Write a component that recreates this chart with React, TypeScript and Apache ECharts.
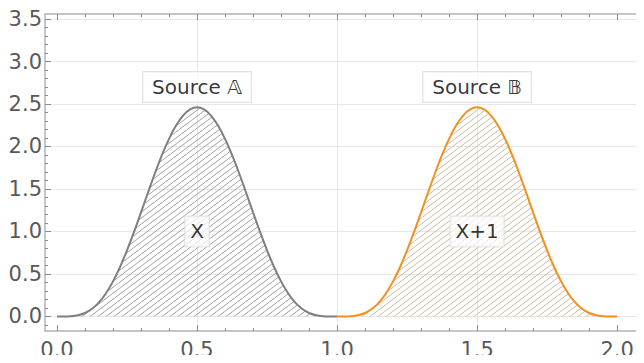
import { useEffect, useRef } from "react";
import * as echarts from "echarts";

// Sample positions and heights of the two densities
const xsA = [0, 0.025, 0.05, 0.075, 0.1, 0.125, 0.15, 0.175, 0.2, 0.225, 0.25, 0.275, 0.3, 0.325, 0.35, 0.375, 0.4, 0.425, 0.45, 0.475, 0.5, 0.525, 0.55, 0.575, 0.6, 0.625, 0.65, 0.675, 0.7, 0.725, 0.75, 0.775, 0.8, 0.825, 0.85, 0.875, 0.9, 0.925, 0.95, 0.975, 1];
const sourceA = [0, 0.0002, 0.003, 0.015, 0.041, 0.09, 0.166, 0.274, 0.413, 0.582, 0.779, 0.995, 1.225, 1.459, 1.688, 1.901, 2.09, 2.247, 2.364, 2.436, 2.461, 2.436, 2.364, 2.247, 2.09, 1.901, 1.688, 1.459, 1.225, 0.995, 0.779, 0.582, 0.413, 0.274, 0.166, 0.09, 0.041, 0.015, 0.003, 0.0002, 0];
const xsB = [1, 1.025, 1.05, 1.075, 1.1, 1.125, 1.15, 1.175, 1.2, 1.225, 1.25, 1.275, 1.3, 1.325, 1.35, 1.375, 1.4, 1.425, 1.45, 1.475, 1.5, 1.525, 1.55, 1.575, 1.6, 1.625, 1.65, 1.675, 1.7, 1.725, 1.75, 1.775, 1.8, 1.825, 1.85, 1.875, 1.9, 1.925, 1.95, 1.975, 2];
const sourceB = [0, 0.0002, 0.003, 0.015, 0.041, 0.09, 0.166, 0.274, 0.413, 0.582, 0.779, 0.995, 1.225, 1.459, 1.688, 1.901, 2.09, 2.247, 2.364, 2.436, 2.461, 2.436, 2.364, 2.247, 2.09, 1.901, 1.688, 1.459, 1.225, 0.995, 0.779, 0.582, 0.413, 0.274, 0.166, 0.09, 0.041, 0.015, 0.003, 0.0002, 0];

// Tick positions
const xMajor = [0, 0.5, 1, 1.5, 2];
const xMinor = [0, 0.1, 0.2, 0.3, 0.4, 0.5, 0.6, 0.7, 0.8, 0.9, 1, 1.1, 1.2, 1.3, 1.4, 1.5, 1.6, 1.7, 1.8, 1.9, 2];
const xGrid = [0.5, 1, 1.5];
const yMajor = [0, 0.5, 1, 1.5, 2, 2.5, 3, 3.5];
const yMinor = [-0.1, 0, 0.1, 0.2, 0.3, 0.4, 0.5, 0.6, 0.7, 0.8, 0.9, 1, 1.1, 1.2, 1.3, 1.4, 1.5, 1.6, 1.7, 1.8, 1.9, 2, 2.1, 2.2, 2.3, 2.4, 2.5, 2.6, 2.7, 2.8, 2.9, 3, 3.1, 3.2, 3.3, 3.4, 3.5];

// Annotation labels: [x, y, text, horizontal padding]
const annotations: [number, number, string, number][] = [
  [0.5, 2.7, "Source 𝔸", 9],
  [1.5, 2.7, "Source 𝔹", 9],
  [0.5, 1.0, "X", 5],
  [1.5, 1.0, "X+1", 5],
];

const GRAY = "#7f7f7f";
const ORANGE = "#f4901e";

function hatch(color: string) {
  const w = 8;
  const h = 6;
  const c = document.createElement("canvas");
  c.width = w;
  c.height = h;
  const ctx = c.getContext("2d")!;
  ctx.strokeStyle = color;
  ctx.lineWidth = 0.9;
  for (let dx = -1; dx <= 1; dx++) {
    for (let dy = -1; dy <= 1; dy++) {
      ctx.beginPath();
      ctx.moveTo(dx * w, h + dy * h);
      ctx.lineTo(w + dx * w, dy * h);
      ctx.stroke();
    }
  }
  return { image: c, repeat: "repeat", imageWidth: w, imageHeight: h } as any;
}

const tickFont = {
  color: "#595959",
  fontSize: 21,
  fontFamily: "DejaVu Sans",
};

export default function App() {
  const ref = useRef<HTMLDivElement>(null);

  useEffect(() => {
    const chart = echarts.init(ref.current!, null, { renderer: "svg" });
    const xMin = -0.0429;
    const xMax = 2.096;
    const yMin = -0.171;
    const yMax = 3.559;
    const frame = { show: true, onZero: false, lineStyle: { color: "#b3b3b3", width: 1.5 } };
    const noLine = { show: false, onZero: false };
    const majorTick = (vals: number[]) => ({
      show: true, inside: true, length: 6, customValues: vals,
      lineStyle: { color: "#8c8c8c", width: 1 },
    });
    const minorTick = (vals: number[]) => ({
      show: true, inside: true, length: 3, customValues: vals,
      lineStyle: { color: "#8c8c8c", width: 1 },
    });
    const gridStyle = { show: true, lineStyle: { color: "#e8e8e8", width: 1 } };
    const fmt = (v: number) => v.toFixed(1);
    const xBase = { type: "value", min: xMin, max: xMax };
    const yBase = { type: "value", min: yMin, max: yMax };

    chart.setOption({
      animation: false,
      grid: { left: 45, right: 0, top: 14, bottom: 32 },
      xAxis: [
        {
          ...xBase, position: "bottom", axisLine: frame, axisTick: majorTick(xMajor),
          splitLine: { show: false },
          axisLabel: { ...tickFont, margin: 8, customValues: xMajor, formatter: fmt },
        },
        {
          ...xBase, position: "bottom", axisLine: noLine, axisTick: minorTick(xMinor),
          splitLine: { show: false }, axisLabel: { show: false },
        },
        {
          ...xBase, position: "top", axisLine: frame, axisTick: majorTick(xMajor),
          splitLine: { show: false }, axisLabel: { show: false },
        },
        {
          ...xBase, position: "top", axisLine: noLine, axisTick: minorTick(xMinor),
          splitLine: { show: false }, axisLabel: { show: false },
        },
        {
          ...xBase, position: "bottom", axisLine: noLine,
          axisTick: { show: false, customValues: xGrid },
          splitLine: gridStyle, axisLabel: { show: false },
        },
      ],
      yAxis: [
        {
          ...yBase, position: "left", axisLine: frame, axisTick: majorTick(yMajor),
          splitLine: gridStyle,
          axisLabel: { ...tickFont, margin: 3, customValues: yMajor, formatter: fmt },
        },
        {
          ...yBase, position: "left", axisLine: noLine, axisTick: minorTick(yMinor),
          splitLine: { show: false }, axisLabel: { show: false },
        },
      ],
      series: [
        {
          type: "line",
          data: xsA.map((x, i) => [x, sourceA[i]]),
          smooth: 0.3,
          showSymbol: false,
          lineStyle: { color: GRAY, width: 2 },
          areaStyle: { color: hatch("#9a9a9a"), opacity: 1 },
          z: 2,
        },
        {
          type: "line",
          data: xsB.map((x, i) => [x, sourceB[i]]),
          smooth: 0.3,
          showSymbol: false,
          lineStyle: { color: ORANGE, width: 2 },
          areaStyle: { color: hatch("#c9b49a"), opacity: 1 },
          z: 2,
        },
        {
          type: "scatter",
          symbolSize: 0,
          silent: true,
          z: 5,
          data: annotations.map(([x, y, text, pad]) => ({
            value: [x, y, text],
            label: { padding: [5, pad] },
          })),
          label: {
            show: true,
            position: "inside",
            color: "#000",
            fontSize: 20,
            fontFamily: "DejaVu Sans",
            lineHeight: 20,
            backgroundColor: "rgba(255,255,255,0.85)",
            borderColor: "#dcdcdc",
            borderWidth: 1,
            formatter: (p: any) => p.value[2],
          },
        },
      ],
    });
    return () => chart.dispose();
  }, []);

  return <div ref={ref} style={{ width: 644, height: 363, margin: -8 }} />;
}
